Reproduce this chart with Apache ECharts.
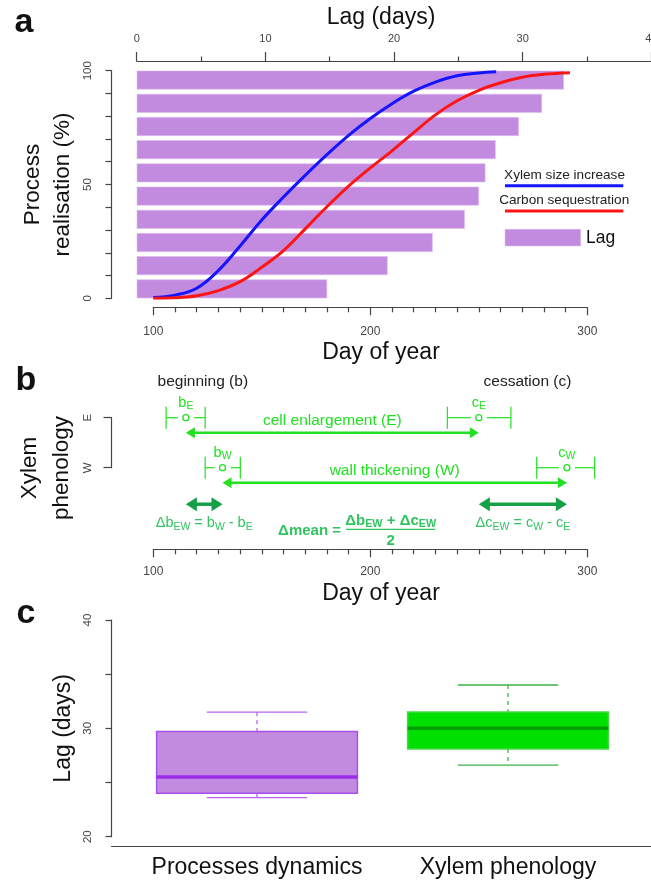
<!DOCTYPE html>
<html>
<head>
<meta charset="utf-8">
<script src="https://cdn.jsdelivr.net/npm/echarts@6/dist/echarts.min.js"></script>
<style>
  html, body { margin: 0; padding: 0; background: #fff; }
  #chart { width: 651px; height: 882px; }
</style>
</head>
<body>
<div id="chart"></div>
<script>
// ---- panel a : lag bars + process curves ----
const lagClasses = ['0-10', '10-20', '20-30', '30-40', '40-50', '50-60', '60-70', '70-80', '80-90', '90-100'];
const lagDays = [14.8, 19.5, 23.0, 25.5, 26.6, 27.1, 27.9, 29.7, 31.5, 33.2];
const lagTicks = [0, 10, 20, 30, 40];
const doyTicks = [100, 200, 300];
const pctTicks = [0, 50, 100];

const xylemDoy = [100, 110, 120, 130, 140, 150, 160, 170, 180, 190, 200, 210, 220, 230, 240, 250, 258];
const xylemPct = [0.3, 1.4, 4.4, 12.2, 23.0, 34.4, 44.5, 54.0, 63.1, 71.6, 79.0, 85.5, 91.0, 95.0, 97.8, 99.0, 99.5];
const carbonDoy = [100, 110, 120, 130, 140, 150, 160, 170, 180, 190, 200, 210, 220, 230, 240, 250, 260, 270, 280, 292];
const carbonPct = [0, 0.2, 1.1, 3.4, 7.3, 13.7, 21.0, 30.5, 40.2, 49.3, 57.3, 64.8, 72.8, 80.6, 86.8, 91.4, 94.7, 97.1, 98.4, 99.1];

// ---- panel b : xylem phenology (rows bottom -> top) ----
const phases = ['W', 'E'];
const phaseNames = ['wall thickening (W)', 'cell enlargement (E)'];
const beginMean = [131.9, 115.0];
const beginLow = [123.9, 105.9];
const beginHigh = [140.1, 123.9];
const endMean = [290.6, 250.0];
const endLow = [276.7, 235.5];
const endHigh = [303.4, 264.8];

// ---- panel c : lag boxplots ----
const boxGroups = ['Processes dynamics', 'Xylem phenology'];
const boxMin = [23.6, 26.6];
const boxQ1 = [24.0, 28.1];
const boxMedian = [25.5, 30.0];
const boxQ3 = [29.7, 31.5];
const boxMax = [31.5, 34.0];
const boxLagTicks = [20, 30, 40];

const FONT = '"Liberation Sans", Arial, Helvetica, sans-serif';
const AXIS = '#444';
const INK = '#111';
const PURPLE = '#c38be0';
const GREEN = '#22e022';
const DARK_GREEN = '#14a047';
const FORMULA_GREEN = '#30c460';
const boxStyles = [
  { fill: PURPLE, border: '#a650ee', median: '#9a2ee8', whisker: '#b565f5' },
  { fill: '#00e000', border: '#45da45', median: '#009e00', whisker: '#3cb34a' }
];

const chart = echarts.init(document.getElementById('chart'));

function axisLineStyle() {
  return { show: true, onZero: false, lineStyle: { color: AXIS, width: 1.2 } };
}
function tickStyle(len) {
  return { show: true, length: len, lineStyle: { color: AXIS, width: 1.2 } };
}
function onlyTicks(list) {
  return v => (list.indexOf(v) >= 0 ? String(v) : '');
}
function doyAxis(grid, offset, margin) {
  return {
    type: 'value', gridIndex: grid, min: 100, max: 300, interval: 100, offset: offset,
    axisLine: axisLineStyle(),
    axisTick: tickStyle(8),
    minorTick: { show: true, splitNumber: 10, length: 5, lineStyle: { color: AXIS, width: 1.2 } },
    splitLine: { show: false },
    axisLabel: { show: true, fontSize: 12, color: AXIS, fontFamily: FONT, margin: margin, formatter: onlyTicks(doyTicks) }
  };
}
function sideAxis(grid, extra) {
  return Object.assign({
    gridIndex: grid,
    axisLine: axisLineStyle(),
    axisTick: tickStyle(6),
    splitLine: { show: false },
    axisLabel: { show: true, fontSize: 11.5, color: AXIS, fontFamily: FONT, rotate: 90, margin: 18 }
  }, extra);
}
function rich(size, bold, color) {
  const w = bold ? 'bold' : 'normal';
  return {
    m: { fontSize: size, fontWeight: w, fontFamily: FONT, fill: color, color: color },
    s: { fontSize: size * 0.72, fontWeight: w, fontFamily: FONT, fill: color, color: color, padding: [size * 0.5, 0, 0, 0] }
  };
}

function renderPhase(params, api) {
  const row = api.value(0);
  const px = v => api.coord([v, row])[0];
  const y = api.coord([api.value(1), row])[1];
  const line = (x1, y1, x2, y2, w) => ({ type: 'line', shape: { x1, y1, x2, y2 }, style: { stroke: GREEN, lineWidth: w || 1.2 } });
  const out = [];
  [[1, 'b'], [4, 'c']].forEach(([k, ch]) => {
    const m = px(api.value(k)), lo = px(api.value(k + 1)), hi = px(api.value(k + 2));
    out.push(line(lo, y, m - 8, y), line(m + 8, y, hi, y), line(lo, y - 11, lo, y + 11), line(hi, y - 11, hi, y + 11));
    out.push({ type: 'circle', shape: { cx: m, cy: y, r: 3 }, style: { fill: '#fff', stroke: GREEN, lineWidth: 1.3 } });
    out.push({ type: 'text', x: m, y: y - 15, style: {
      text: '{m|' + ch + '}{s|' + phases[row] + '}', align: 'center', verticalAlign: 'middle', rich: rich(14.5, false, GREEN) } });
  });
  const ay = y + 15;
  const x0 = px(api.value(1)), x1 = px(api.value(4));
  out.push(line(x0 + 6, ay, x1 - 6, ay, 2.6));
  out.push({ type: 'polygon', shape: { points: [[x0, ay], [x0 + 9, ay - 5.5], [x0 + 9, ay + 5.5]] }, style: { fill: GREEN } });
  out.push({ type: 'polygon', shape: { points: [[x1, ay], [x1 - 9, ay - 5.5], [x1 - 9, ay + 5.5]] }, style: { fill: GREEN } });
  out.push({ type: 'text', x: (x0 + x1) / 2, y: ay - 11.5, style: {
    text: phaseNames[row], fontSize: 15.5, fontFamily: FONT, fill: GREEN, align: 'center', verticalAlign: 'middle' } });
  return { type: 'group', children: out };
}

const shiftLetters = ['b', 'c'];
function renderShift(params, api) {
  const row = api.value(0);
  const y = api.coord([100, row])[1] + 36.5;
  const x0 = api.coord([api.value(1), row])[0];
  const x1 = api.coord([api.value(2), row])[0];
  const ch = shiftLetters[params.dataIndex];
  const style = { fill: DARK_GREEN };
  return { type: 'group', children: [
    { type: 'line', shape: { x1: x0 + 8, y1: y, x2: x1 - 8, y2: y }, style: { stroke: DARK_GREEN, lineWidth: 3.5 } },
    { type: 'polygon', shape: { points: [[x0, y], [x0 + 11, y - 7], [x0 + 11, y + 7]] }, style: style },
    { type: 'polygon', shape: { points: [[x1, y], [x1 - 11, y - 7], [x1 - 11, y + 7]] }, style: style },
    { type: 'text', x: (x0 + x1) / 2, y: y + 19, style: {
      text: '{m|Δ' + ch + '}{s|EW}{m| = ' + ch + '}{s|W}{m| - ' + ch + '}{s|E}',
      align: 'center', verticalAlign: 'middle', rich: rich(14.5, false, FORMULA_GREEN) } }
  ] };
}

function renderBox(params, api) {
  const i = api.value(0);
  const cx = api.coord([i, 30])[0];
  const band = api.size([1, 0])[0];
  const hw = band * 0.4, cw = band * 0.2;
  const y = k => api.coord([i, api.value(k)])[1];
  const st = boxStyles[i];
  const wl = { stroke: st.whisker, lineWidth: 1.3, lineDash: [4, 4] };
  const cap = { stroke: st.whisker, lineWidth: 1.3 };
  return { type: 'group', children: [
    { type: 'line', shape: { x1: cx, y1: y(5), x2: cx, y2: y(4) }, style: wl },
    { type: 'line', shape: { x1: cx, y1: y(2), x2: cx, y2: y(1) }, style: wl },
    { type: 'line', shape: { x1: cx - cw, y1: y(5), x2: cx + cw, y2: y(5) }, style: cap },
    { type: 'line', shape: { x1: cx - cw, y1: y(1), x2: cx + cw, y2: y(1) }, style: cap },
    { type: 'rect', shape: { x: cx - hw, y: y(4), width: 2 * hw, height: y(2) - y(4) }, style: { fill: st.fill, stroke: st.border, lineWidth: 1.5 } },
    { type: 'line', shape: { x1: cx - hw, y1: y(3), x2: cx + hw, y2: y(3) }, style: { stroke: st.median, lineWidth: 3.5 } }
  ] };
}

function text(x, y, str, size, extra, rotation) {
  const el = { type: 'text', x: x, y: y, silent: true, style: Object.assign({
    text: str, fontSize: size, fontFamily: FONT, fill: INK, align: 'center', verticalAlign: 'middle' }, extra || {}) };
  if (rotation) el.rotation = rotation;
  return el;
}
const R90 = Math.PI / 2;

chart.setOption({
  animation: false,
  backgroundColor: '#fff',
  grid: [
    { left: 136.7, top: 68.5, width: 514.7, height: 232, outerBoundsMode: 'none' },
    { left: 153.3, top: 70.7, width: 434, height: 227.6, outerBoundsMode: 'none' },
    { left: 153.3, top: 417.7, width: 434, height: 50, outerBoundsMode: 'none' },
    { left: 111.5, top: 620, width: 539.5, height: 216.7, outerBoundsMode: 'none' },
    { left: 131.5, top: 620, width: 502, height: 216.7, outerBoundsMode: 'none' }
  ],
  xAxis: [
    {
      type: 'value', gridIndex: 0, position: 'top', min: lagTicks[0], max: lagTicks[lagTicks.length - 1], interval: 10, offset: 7.5,
      axisLine: axisLineStyle(),
      axisTick: tickStyle(9),
      minorTick: { show: true, splitNumber: 2, length: 4.5, lineStyle: { color: AXIS, width: 1.2 } },
      splitLine: { show: false },
      axisLabel: { show: true, fontSize: 11, color: AXIS, fontFamily: FONT, margin: 17, formatter: onlyTicks(lagTicks) }
    },
    doyAxis(1, 9, 18),
    doyAxis(2, 81.6, 16),
    {
      type: 'value', gridIndex: 3, min: 0, max: 1, offset: 9.3,
      axisLine: axisLineStyle(), axisTick: { show: false }, axisLabel: { show: false }, splitLine: { show: false }
    },
    {
      type: 'category', gridIndex: 4, data: boxGroups,
      axisLine: { show: false }, axisTick: { show: false },
      axisLabel: { show: true, interval: 0, hideOverlap: false, fontSize: 23, color: INK, fontFamily: FONT, margin: 19 }
    }
  ],
  yAxis: [
    { type: 'category', gridIndex: 0, data: lagClasses, show: false },
    sideAxis(1, { type: 'value', min: 0, max: 100, interval: 10, offset: 41.8,
      axisLabel: { show: true, fontSize: 11.5, color: AXIS, fontFamily: FONT, rotate: 90, margin: 18, formatter: onlyTicks(pctTicks) } }),
    sideAxis(2, { type: 'category', data: phases, boundaryGap: false, offset: 41.8, axisTick: tickStyle(8) }),
    sideAxis(3, { type: 'value', min: 20, max: 40, interval: 5,
      axisLabel: { show: true, fontSize: 11.5, color: AXIS, fontFamily: FONT, rotate: 90, margin: 18, formatter: onlyTicks(boxLagTicks) } }),
    { type: 'value', gridIndex: 4, min: 20, max: 40, show: false }
  ],
  series: [
    {
      name: 'Lag', type: 'bar', xAxisIndex: 0, yAxisIndex: 0, data: lagDays, barCategoryGap: '18.5%', silent: true,
      itemStyle: { color: PURPLE, borderColor: '#dcbdf0', borderWidth: 0.6 }
    },
    {
      name: 'Xylem size increase', type: 'line', xAxisIndex: 1, yAxisIndex: 1, silent: true,
      data: xylemDoy.map((d, i) => [d, xylemPct[i]]), smooth: 0.4, showSymbol: false,
      lineStyle: { color: '#1414ff', width: 3 }
    },
    {
      name: 'Carbon sequestration', type: 'line', xAxisIndex: 1, yAxisIndex: 1, silent: true,
      data: carbonDoy.map((d, i) => [d, carbonPct[i]]), smooth: 0.4, showSymbol: false,
      lineStyle: { color: '#ff1414', width: 3 }
    },
    {
      type: 'custom', xAxisIndex: 2, yAxisIndex: 2, silent: true, renderItem: renderPhase,
      encode: { y: 0, x: [1, 2, 3, 4, 5, 6] },
      data: phases.map((p, i) => [i, beginMean[i], beginLow[i], beginHigh[i], endMean[i], endLow[i], endHigh[i]])
    },
    {
      type: 'custom', xAxisIndex: 2, yAxisIndex: 2, silent: true, renderItem: renderShift,
      encode: { y: 0, x: [1, 2] },
      data: [[0, beginMean[1], beginMean[0]], [0, endMean[1], endMean[0]]]
    },
    {
      type: 'custom', xAxisIndex: 4, yAxisIndex: 4, silent: true, renderItem: renderBox,
      encode: { x: 0, y: [1, 2, 3, 4, 5] },
      data: boxGroups.map((g, i) => [i, boxMin[i], boxQ1[i], boxMedian[i], boxQ3[i], boxMax[i]])
    }
  ],
  graphic: [
    // panel a
    text(24, 23, 'a', 34, { fontWeight: 'bold' }),
    text(381, 18, 'Lag (days)', 23),
    text(48, 184.5, 'Process\nrealisation (%)', 22.5, { lineHeight: 30 }, R90),
    text(381, 353, 'Day of year', 23),
    text(564.5, 175.7, 'Xylem size increase', 13.6, { fill: '#222' }),
    { type: 'line', silent: true, shape: { x1: 505, y1: 185.7, x2: 623.3, y2: 185.7 }, style: { stroke: '#1414ff', lineWidth: 3 } },
    text(564.2, 200, 'Carbon sequestration', 13.6, { fill: '#222' }),
    { type: 'line', silent: true, shape: { x1: 505, y1: 211, x2: 623.3, y2: 211 }, style: { stroke: '#ff1414', lineWidth: 3 } },
    { type: 'rect', silent: true, shape: { x: 505, y: 229.3, width: 75.7, height: 16.7 }, style: { fill: PURPLE, stroke: '#dcbdf0', lineWidth: 0.6 } },
    text(586, 238.3, 'Lag', 17.5, { align: 'left' }),
    // panel b
    text(26, 381, 'b', 34, { fontWeight: 'bold' }),
    text(202.8, 381.7, 'beginning (b)', 15.5, { fill: '#222' }),
    text(527.5, 381.7, 'cessation (c)', 15.5, { fill: '#222' }),
    text(46, 468, 'Xylem\nphenology', 22.5, { lineHeight: 32 }, R90),
    text(341, 531, 'Δmean =', 15, { align: 'right', fontWeight: 'bold', fill: FORMULA_GREEN }),
    { type: 'text', x: 390.7, y: 520.5, silent: true, style: {
      text: '{m|Δb}{s|EW}{m| + Δc}{s|EW}', align: 'center', verticalAlign: 'middle', rich: rich(15, true, FORMULA_GREEN) } },
    { type: 'line', silent: true, shape: { x1: 346, y1: 529.3, x2: 435, y2: 529.3 }, style: { stroke: FORMULA_GREEN, lineWidth: 1.2 } },
    text(390.7, 540.5, '2', 15, { fontWeight: 'bold', fill: FORMULA_GREEN }),
    text(381, 593.3, 'Day of year', 23),
    // panel c
    text(26, 614, 'c', 34, { fontWeight: 'bold' }),
    text(63.3, 728.3, 'Lag (days)', 23, {}, R90)
  ]
});
</script>
</body>
</html>
